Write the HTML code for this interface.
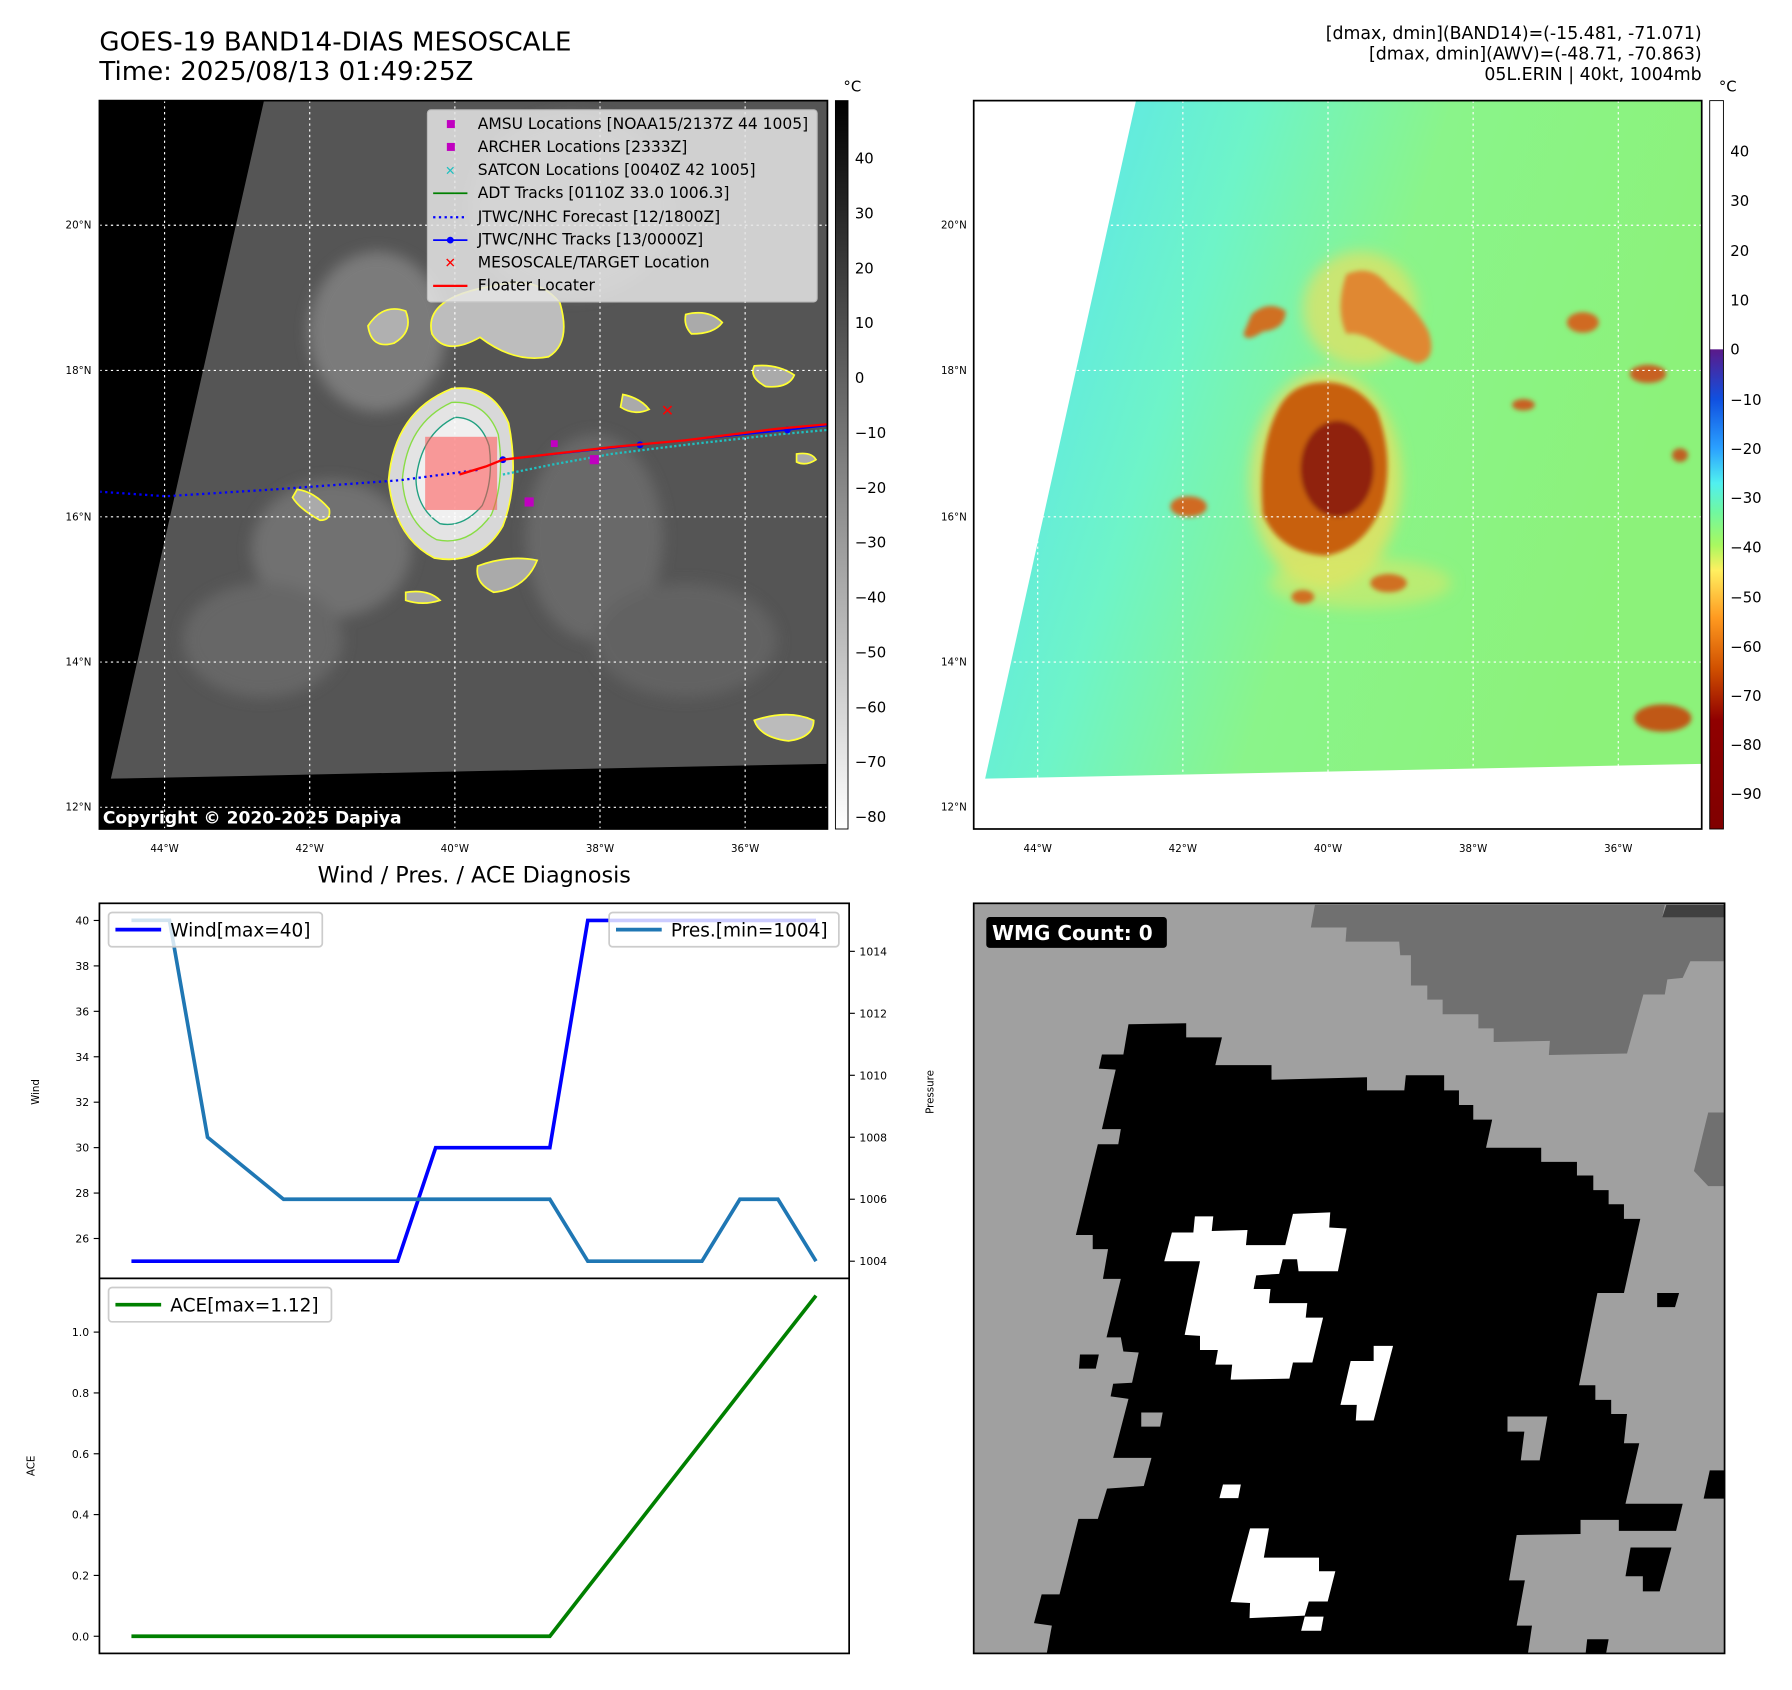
<!DOCTYPE html>
<html><head><meta charset="utf-8"><style>
html,body{margin:0;padding:0;background:#fff;}
svg{display:block;font-family:"DejaVu Sans","Liberation Sans",sans-serif;}
</style></head><body>
<svg id="root" width="1792" height="1690" viewBox="0 0 1568 1478" preserveAspectRatio="none">
<defs>
<filter id="bl" x="-50%" y="-50%" width="200%" height="200%"><feGaussianBlur stdDeviation="6"/></filter>
<filter id="bl2" x="-50%" y="-50%" width="200%" height="200%"><feGaussianBlur stdDeviation="2"/></filter>
<linearGradient id="gcb" x1="0" y1="1" x2="0" y2="0"><stop offset="0" stop-color="#fff"/><stop offset="1" stop-color="#000"/></linearGradient>
<linearGradient id="ccb" gradientUnits="userSpaceOnUse" x1="0" y1="88" x2="0" y2="725">
<stop offset="0" stop-color="#fff"/><stop offset="0.341" stop-color="#fff"/><stop offset="0.342" stop-color="#5a1a8a"/>
<stop offset="0.410" stop-color="#1050e0"/><stop offset="0.477" stop-color="#2aa0ff"/><stop offset="0.525" stop-color="#50f0f0"/>
<stop offset="0.565" stop-color="#70f8a0"/><stop offset="0.61" stop-color="#a8f860"/><stop offset="0.645" stop-color="#fff060"/>
<stop offset="0.71" stop-color="#ff9a20"/><stop offset="0.78" stop-color="#d05000"/><stop offset="0.85" stop-color="#900000"/><stop offset="1" stop-color="#800000"/></linearGradient>
<linearGradient id="swr" x1="0" y1="0" x2="1" y2="0.3"><stop offset="0" stop-color="#55e0f8"/><stop offset="0.35" stop-color="#6ef4c8"/><stop offset="0.6" stop-color="#8af48a"/><stop offset="1" stop-color="#8cf27a"/></linearGradient>
<clipPath id="c1"><rect x="87" y="88" width="637" height="637"/></clipPath>
<clipPath id="c2"><rect x="852" y="88" width="637" height="637"/></clipPath>
</defs>

<!-- Titles -->
<text x="87" y="44" font-size="22.8">GOES-19 BAND14-DIAS MESOSCALE</text>
<text x="87" y="70" font-size="22.8">Time: 2025/08/13 01:49:25Z</text>
<g font-size="15.2" text-anchor="end">
<text x="1489" y="34">[dmax, dmin](BAND14)=(-15.481, -71.071)</text>
<text x="1489" y="52">[dmax, dmin](AWV)=(-48.71, -70.863)</text>
<text x="1489" y="70">05L.ERIN | 40kt, 1004mb</text>
</g>

<!-- Left IR map -->
<g clip-path="url(#c1)">
<rect x="87" y="88" width="637" height="637" fill="#000"/>
<polygon points="231,88 724,88 724,668 97,681" fill="#555"/>
<g filter="url(#bl)" opacity="0.8">
<ellipse cx="330" cy="290" rx="60" ry="70" fill="#858585"/>
<ellipse cx="290" cy="480" rx="70" ry="60" fill="#787878"/>
<ellipse cx="230" cy="560" rx="70" ry="50" fill="#6c6c6c"/>
<ellipse cx="520" cy="470" rx="60" ry="90" fill="#6e6e6e"/>
<ellipse cx="600" cy="560" rx="80" ry="50" fill="#666"/>
<ellipse cx="500" cy="180" rx="90" ry="80" fill="#737373"/>
</g>
<path d="M432,250 Q470,240 490,265 Q500,300 480,312 Q450,318 420,295 Q390,312 378,292 Q370,260 432,250Z" fill="#bdbdbd" stroke="#ffff33" stroke-width="1.5"/>
<path d="M322,285 Q335,265 355,272 Q362,290 345,300 Q325,306 322,285Z" fill="#b0b0b0" stroke="#ffff33" stroke-width="1.5"/>
<path d="M395,340 Q430,335 445,370 Q455,420 440,460 Q420,495 380,488 Q345,470 340,420 Q345,360 395,340Z" fill="#d8d8d8" stroke="#ffff33" stroke-width="1.5"/>
<path d="M395,352 Q425,350 436,380 Q442,420 430,450 Q410,478 382,472 Q355,458 352,420 Q356,370 395,352Z" fill="#e4e4e4" stroke="#88dd44" stroke-width="1.2"/>
<path d="M398,365 Q420,365 428,390 Q432,420 422,442 Q405,462 385,458 Q365,445 364,420 Q368,380 398,365Z" fill="#f0f0f0" stroke="#20a080" stroke-width="1.2"/>
<path d="M260,428 Q275,430 288,445 Q290,455 280,455 Q262,445 256,435Z" fill="#aaa" stroke="#ffff33" stroke-width="1.5"/>
<path d="M600,275 Q620,270 632,282 Q625,292 605,292 Q598,285 600,275Z" fill="#aaa" stroke="#ffff33" stroke-width="1.5"/>
<path d="M660,320 Q680,318 695,328 Q690,340 670,338 Q655,330 660,320Z" fill="#aaa" stroke="#ffff33" stroke-width="1.5"/>
<path d="M545,345 Q560,348 568,358 Q555,364 543,356Z" fill="#aaa" stroke="#ffff33" stroke-width="1.5"/>
<path d="M660,630 Q690,620 712,630 Q712,645 690,648 Q665,645 660,630Z" fill="#bbb" stroke="#ffff33" stroke-width="1.5"/>
<path d="M418,495 Q445,485 470,490 Q460,515 432,518 Q415,510 418,495Z" fill="#aaa" stroke="#ffff33" stroke-width="1.5"/>
<path d="M355,518 Q375,515 385,525 Q370,530 355,525Z" fill="#aaa" stroke="#ffff33" stroke-width="1.5"/>
<path d="M697,397 Q710,395 714,402 Q705,408 697,404Z" fill="#aaa" stroke="#ffff33" stroke-width="1.5"/>
<g stroke="#fff" stroke-width="1" stroke-dasharray="2,3">
<line x1="144" y1="88" x2="144" y2="725"/><line x1="271" y1="88" x2="271" y2="725"/><line x1="398" y1="88" x2="398" y2="725"/><line x1="525" y1="88" x2="525" y2="725"/><line x1="652" y1="88" x2="652" y2="725"/>
<line x1="87" y1="197" x2="724" y2="197"/><line x1="87" y1="324" x2="724" y2="324"/><line x1="87" y1="452" x2="724" y2="452"/><line x1="87" y1="579" x2="724" y2="579"/><line x1="87" y1="706" x2="724" y2="706"/>
</g>
<rect x="372" y="382" width="63" height="64" fill="#ff5050" opacity="0.55"/>
<polyline points="87,430 145,434 240,428 350,420 418,411" fill="none" stroke="#0000ff" stroke-width="2" stroke-dasharray="2,3"/>
<polyline points="440,409 485,400 535,391 600,383 680,374 724,370" fill="none" stroke="#20c0c0" stroke-width="2" stroke-dasharray="2,2" transform="translate(0,6)"/>
<polyline points="440,402 560,389 689,376 724,372" fill="none" stroke="#0000ff" stroke-width="1.5"/>
<circle cx="440" cy="402" r="3" fill="#0000ff"/><circle cx="560" cy="389" r="3" fill="#0000ff"/><circle cx="689" cy="376" r="3" fill="#0000ff"/>
<polyline points="402,415 425,408 440,402 535,391 600,385 680,375 724,371" fill="none" stroke="#ff0000" stroke-width="2"/>
<text x="584" y="360" font-size="14" fill="#f00" text-anchor="middle" font-weight="bold" dominant-baseline="middle">✕</text>
<rect x="459" y="435" width="8" height="8" fill="#c000c0"/><rect x="516" y="398" width="8" height="8" fill="#c000c0"/><rect x="482" y="385" width="6" height="6" fill="#c000c0"/>
</g>
<rect x="87" y="88" width="637" height="637" fill="none" stroke="#000" stroke-width="1.5"/>
<text x="90" y="720" font-size="15" font-weight="bold" fill="#fff">Copyright © 2020-2025 Dapiya</text>
<!-- legend -->
<g font-size="13.6">
<rect x="374" y="96" width="341" height="168" rx="3" fill="#e6e6e6" opacity="0.85" stroke="#ccc"/>
<rect x="391" y="105" width="7" height="7" fill="#c000c0"/><text x="418" y="113">AMSU Locations [NOAA15/2137Z 44 1005]</text>
<rect x="391" y="125" width="7" height="7" fill="#c000c0"/><text x="418" y="133">ARCHER Locations [2333Z]</text>
<text x="394" y="153" fill="#20c0c0" font-size="11" text-anchor="middle" font-weight="bold">✕</text><text x="418" y="153">SATCON Locations [0040Z 42 1005]</text>
<line x1="379" y1="169" x2="409" y2="169" stroke="#008000" stroke-width="1.5"/><text x="418" y="173">ADT Tracks [0110Z 33.0 1006.3]</text>
<line x1="379" y1="190" x2="409" y2="190" stroke="#00f" stroke-width="2" stroke-dasharray="2,3"/><text x="418" y="194">JTWC/NHC Forecast [12/1800Z]</text>
<line x1="379" y1="210" x2="409" y2="210" stroke="#00f" stroke-width="1.5"/><circle cx="394" cy="210" r="3" fill="#00f"/><text x="418" y="214">JTWC/NHC Tracks [13/0000Z]</text>
<text x="394" y="234" fill="#f00" font-size="12" text-anchor="middle" font-weight="bold">✕</text><text x="418" y="234">MESOSCALE/TARGET Location</text>
<line x1="379" y1="250" x2="409" y2="250" stroke="#f00" stroke-width="2"/><text x="418" y="254">Floater Locater</text>
</g>
<g font-size="9">
<g text-anchor="end"><text x="80" y="200">20°N</text><text x="80" y="327">18°N</text><text x="80" y="455">16°N</text><text x="80" y="582">14°N</text><text x="80" y="709">12°N</text></g>
<g text-anchor="middle"><text x="144" y="745">44°W</text><text x="271" y="745">42°W</text><text x="398" y="745">40°W</text><text x="525" y="745">38°W</text><text x="652" y="745">36°W</text></g>
</g>
<!-- left colorbar -->
<rect x="731" y="88" width="11" height="637" fill="url(#gcb)" stroke="#000" stroke-width="0.8"/>
<text x="738" y="80" font-size="13">°C</text>
<g font-size="13">
<text x="748" y="143">40</text><text x="748" y="191">30</text><text x="748" y="239">20</text><text x="748" y="287">10</text><text x="748" y="335">0</text><text x="748" y="383">−10</text><text x="748" y="431">−20</text><text x="748" y="479">−30</text><text x="748" y="527">−40</text><text x="748" y="575">−50</text><text x="748" y="623">−60</text><text x="748" y="671">−70</text><text x="748" y="719">−80</text>
</g>

<!-- Right AWV map -->
<g clip-path="url(#c2)">
<rect x="852" y="88" width="637" height="637" fill="#fff"/>
<polygon points="994,88 1489,88 1489,668 862,681" fill="url(#swr)"/>
<g filter="url(#bl)">
<ellipse cx="1190" cy="270" rx="50" ry="50" fill="#e8e060" opacity="0.7"/>
<ellipse cx="1160" cy="420" rx="66" ry="95" fill="#e8e060" opacity="0.8"/>
<ellipse cx="1190" cy="510" rx="80" ry="22" fill="#d8e868" opacity="0.6"/>
</g>
<g filter="url(#bl2)">
<path d="M1178,240 Q1200,230 1215,250 Q1240,270 1250,290 Q1258,315 1240,318 Q1220,310 1205,300 Q1190,290 1178,292 Q1168,270 1178,240Z" fill="#e08830"/>
<path d="M1095,275 Q1110,262 1125,272 Q1125,288 1105,290 Q1090,300 1088,292Z" fill="#d07020"/>
<path d="M1150,335 Q1185,330 1205,360 Q1220,400 1210,440 Q1195,480 1160,486 Q1120,484 1105,450 Q1100,390 1120,355 Q1130,338 1150,335Z" fill="#c86010"/>
<ellipse cx="1170" cy="410" rx="32" ry="42" fill="#902008"/>
<ellipse cx="1040" cy="443" rx="16" ry="9" fill="#d06a20"/>
<ellipse cx="1385" cy="282" rx="14" ry="9" fill="#d06a20"/>
<ellipse cx="1442" cy="327" rx="16" ry="8" fill="#c86020"/>
<ellipse cx="1333" cy="354" rx="10" ry="5" fill="#c86020"/>
<ellipse cx="1455" cy="628" rx="25" ry="12" fill="#c05818"/>
<ellipse cx="1215" cy="510" rx="16" ry="8" fill="#d07020"/>
<ellipse cx="1140" cy="522" rx="10" ry="6" fill="#d07020"/>
<ellipse cx="1470" cy="398" rx="7" ry="6" fill="#c06020"/>
</g>
<g stroke="#fff" stroke-width="1" stroke-dasharray="2,3">
<line x1="908" y1="88" x2="908" y2="725"/><line x1="1035" y1="88" x2="1035" y2="725"/><line x1="1162" y1="88" x2="1162" y2="725"/><line x1="1289" y1="88" x2="1289" y2="725"/><line x1="1416" y1="88" x2="1416" y2="725"/>
<line x1="852" y1="197" x2="1489" y2="197"/><line x1="852" y1="324" x2="1489" y2="324"/><line x1="852" y1="452" x2="1489" y2="452"/><line x1="852" y1="579" x2="1489" y2="579"/>
</g>
</g>
<rect x="852" y="88" width="637" height="637" fill="none" stroke="#000" stroke-width="1.5"/>
<g font-size="9">
<g text-anchor="end"><text x="846" y="200">20°N</text><text x="846" y="327">18°N</text><text x="846" y="455">16°N</text><text x="846" y="582">14°N</text><text x="846" y="709">12°N</text></g>
<g text-anchor="middle"><text x="908" y="745">44°W</text><text x="1035" y="745">42°W</text><text x="1162" y="745">40°W</text><text x="1289" y="745">38°W</text><text x="1416" y="745">36°W</text></g>
</g>
<rect x="1496" y="88" width="12" height="637" fill="url(#ccb)" stroke="#000" stroke-width="0.8"/>
<text x="1504" y="80" font-size="13">°C</text>
<g font-size="13">
<text x="1514" y="137">40</text><text x="1514" y="180">30</text><text x="1514" y="224">20</text><text x="1514" y="267">10</text><text x="1514" y="310">0</text><text x="1514" y="354">−10</text><text x="1514" y="397">−20</text><text x="1514" y="440">−30</text><text x="1514" y="483">−40</text><text x="1514" y="527">−50</text><text x="1514" y="570">−60</text><text x="1514" y="613">−70</text><text x="1514" y="656">−80</text><text x="1514" y="699">−90</text>
</g>

<!-- Bottom-right WMG panel -->
<svg x="852" y="790" width="657" height="656" viewBox="27 27 1470 1488" preserveAspectRatio="none">
<rect x="27" y="27" width="1470" height="1488" fill="#a0a0a0"/>
<polygon points="695,30 1380,30 1375,55 1497,55 1497,142 1430,142 1415,175 1385,178 1380,208 1338,208 1306,325 1153,328 1155,300 1045,302 1045,275 1015,275 1015,247 945,247 945,218 915,218 915,190 883,190 883,130 862,130 860,103 755,103 757,75 687,75" fill="#707070"/>
<polygon points="1383,30 1497,30 1497,55 1375,55" fill="#404040"/>
<polygon points="1465,442 1497,442 1497,588 1465,588 1437,558" fill="#707070"/>
<polygon points="330,267 443,265 443,293 513,293 500,348 610,348 610,377 797,372 797,398 870,398 873,368 948,368 948,398 977,398 977,427 1005,427 1005,456 1042,456 1030,512 1138,512 1138,540 1208,540 1208,567 1240,567 1240,596 1270,596 1270,624 1300,624 1300,653 1332,653 1300,800 1248,800 1212,983 1244,983 1244,1012 1275,1012 1275,1040 1306,1040 1300,1098 1330,1098 1303,1218 1415,1218 1402,1272 1290,1272 1290,1250 1215,1250 1215,1278 1090,1280 1075,1370 1106,1370 1090,1460 1120,1460 1112,1515 170,1515 180,1460 145,1455 160,1398 195,1398 232,1248 270,1248 288,1188 360,1183 375,1127 300,1127 330,1010 295,1005 300,980 337,978 350,918 320,916 315,888 287,888 315,772 280,772 290,713 260,713 260,685 227,685 270,505 310,505 315,475 278,475 305,357 272,355 278,327 320,327" fill="#000"/>
<polygon points="1072,1045 1150,1045 1135,1132 1098,1132 1105,1075 1072,1075" fill="#a0a0a0"/>
<polygon points="355,1037 397,1037 392,1065 355,1065" fill="#a0a0a0"/>
<polygon points="1365,800 1408,800 1400,828 1365,828" fill="#000"/>
<polygon points="235,922 272,922 266,950 233,950" fill="#000"/>
<polygon points="1468,1152 1497,1152 1497,1208 1456,1208" fill="#000"/>
<polygon points="1313,1305 1393,1305 1370,1392 1337,1392 1337,1362 1303,1362" fill="#000"/>
<polygon points="1228,1487 1270,1487 1265,1515 1225,1515" fill="#000"/>
<g fill="#fff">
<polygon points="415,680 457,680 460,648 496,648 493,677 563,675 560,705 637,705 652,643 725,640 723,670 757,672 740,757 663,757 660,733 632,733 625,762 580,765 575,792 608,792 605,820 680,820 677,849 711,849 690,938 652,938 645,970 530,972 533,942 500,942 505,913 470,913 470,885 440,883 470,737 400,737"/>
<polygon points="765,935 810,935 810,905 848,905 810,1053 775,1053 777,1022 745,1022"/>
<polygon points="515,1180 550,1180 545,1207 508,1207"/>
<polygon points="568,1267 605,1267 595,1325 703,1325 703,1352 735,1352 720,1412 683,1412 675,1440 567,1445 568,1415 530,1413"/>
<polygon points="675,1442 712,1442 707,1470 668,1470"/>
</g>
</svg>
<rect x="852" y="790" width="657" height="656" fill="none" stroke="#000" stroke-width="1.5"/>
<rect x="863" y="802" width="158" height="27" rx="3" fill="#000"/>
<text x="868" y="822" font-size="17.5" font-weight="bold" fill="#fff">WMG Count: 0</text>

<!-- Bottom-left diagnosis chart -->
<text x="415" y="772" font-size="19.5" text-anchor="middle">Wind / Pres. / ACE Diagnosis</text>
<g id="diag"></g>
</svg>
<script>
const windValues = [25,25,25,25,25,25,25,25,30,30,30,30,40,40,40,40,40,40,40];
const presValues = [1015,1015,1008,1007,1006,1006,1006,1006,1006,1006,1006,1006,1004,1004,1004,1004,1006,1006,1004];
const aceValues = [0,0,0,0,0,0,0,0,0,0,0,0,0.16,0.32,0.48,0.64,0.80,0.96,1.12];
const windTicks = [26,28,30,32,34,36,38,40];
const presTicks = [1004,1006,1008,1010,1012,1014];
const aceTicks = [0.0,0.2,0.4,0.6,0.8,1.0];

const NS = 'http://www.w3.org/2000/svg';
const g = document.getElementById('diag');
function mk(tag, attrs, parent){const e=document.createElementNS(NS,tag);for(const k in attrs)e.setAttribute(k,attrs[k]);(parent||g).appendChild(e);return e;}
const L=87,R=743,T=790,M=1118,B=1446;
const xS = i => 115 + i*(714-115)/(windValues.length-1);
const wY = v => 1103 - (v-25)*(1103-805)/15;
const pY = v => 1103 - (v-1004)*(1103-832)/10;
const aY = v => 1431 - v*(1431-1165);

let fr = mk('rect',{x:L,y:T,width:R-L,height:B-T,fill:'none',stroke:'#000','stroke-width':1.5});


let mid = mk('line',{x1:L,y1:M,x2:R,y2:M,stroke:'#000','stroke-width':1.5});



function tick(x1,y,dir,label,anchor,name){
  const t=mk('line',{x1:x1,y1:y,x2:x1+dir*5,y2:y,stroke:'#000','stroke-width':1});
  
  
  const tx=mk('text',{x:x1+dir*9,y:y+3.5,'font-size':9.5,'text-anchor':anchor});
  tx.textContent=label;
  
  
}
windTicks.forEach(v=>tick(L,wY(v),-1,String(v),'end','wind-axis'));
presTicks.forEach(v=>tick(R,pY(v),1,String(v),'start','pressure-axis'));
aceTicks.forEach(v=>tick(L,aY(v),-1,v.toFixed(1),'end','ace-axis'));

function ylab(x,y,txt,name){const t=mk('text',{x:x,y:y,'font-size':9,'text-anchor':'middle',transform:`rotate(-90 ${x} ${y})`});t.textContent=txt;

}
ylab(34,955,'Wind','wind-axis-title');
ylab(817,955,'Pressure','pressure-axis-title');
ylab(30,1282,'ACE','ace-axis-title');

function line(vals,yf,color,name){
  const pts=vals.map((v,i)=>xS(i).toFixed(1)+','+yf(v).toFixed(1)).join(' ');
  const p=mk('polyline',{points:pts,fill:'none',stroke:color,'stroke-width':3.2,'stroke-linejoin':'miter'});
  
  
}
line(windValues,wY,'#0000ff','wind-line');
line(aceValues,aY,'#008000','ace-line');
line(presValues,pY,'#1f77b4','pressure-line');

function legend(x,y,w,color,txt,name){
  const r=mk('rect',{x:x,y:y,width:w,height:30,rx:3,fill:'#fff','fill-opacity':0.8,stroke:'#ccc','stroke-width':1.5});
  
  
  mk('line',{x1:x+6,y1:y+15,x2:x+46,y2:y+15,stroke:color,'stroke-width':3.2});
  const t=mk('text',{x:x+54,y:y+21,'font-size':16.2});
  t.textContent=txt;
}
legend(95,798,187,'#0000ff','Wind[max=40]','wind-legend');
legend(533,798,201,'#1f77b4','Pres.[min=1004]','pressure-legend');
legend(95,1126,195,'#008000','ACE[max=1.12]','ace-legend');
</script>
</body></html>
